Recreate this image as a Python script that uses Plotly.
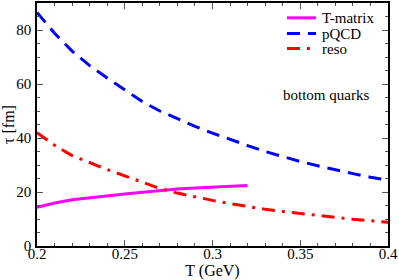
import plotly.graph_objects as go

# ---- data ----
T_tmat = [0.20, 0.21, 0.22, 0.23, 0.24, 0.25, 0.26, 0.27, 0.28, 0.29, 0.30, 0.31, 0.32]
tau_tmat = [14.3, 15.9, 17.1, 17.9, 18.6, 19.3, 19.9, 20.6, 21.1, 21.5, 21.8, 22.1, 22.4]

T_full = [0.20, 0.21, 0.22, 0.23, 0.24, 0.25, 0.26, 0.27, 0.28, 0.29, 0.30,
          0.31, 0.32, 0.33, 0.34, 0.35, 0.36, 0.37, 0.38, 0.39, 0.40]
tau_pqcd = [86.5, 78.8, 72.2, 66.8, 62.2, 58.0, 53.5, 50.0, 47.0, 44.3, 41.8,
            39.4, 37.2, 35.0, 33.1, 31.3, 29.7, 28.2, 26.8, 25.5, 24.4]
tau_reso = [42.0, 37.3, 33.5, 30.8, 28.3, 26.0, 23.6, 21.3, 19.6, 18.2, 16.9,
            15.7, 14.6, 13.6, 12.8, 12.0, 11.3, 10.6, 9.9, 9.3, 8.8]

x_ticks = [0.2, 0.25, 0.3, 0.35, 0.4]
x_ticktext = ["0.2", "0.25", "0.3", "0.35", "0.4"]
y_ticks = [0, 20, 40, 60, 80]

series_names = ["T-matrix", "pQCD", "reso"]
series_colors = ["#FF00FF", "#0000FF", "#FF0000"]
series_dash = ["solid", "13px,8px", "13px,7px,3px,7px"]

FONT = "Liberation Serif"

fig = go.Figure()
data = [(T_tmat, tau_tmat), (T_full, tau_pqcd), (T_full, tau_reso)]
for (xs, ys), name, col, dash in zip(data, series_names, series_colors, series_dash):
    fig.add_trace(go.Scatter(x=xs, y=ys, mode="lines", name=name,
                             line=dict(color=col, width=3, dash=dash),
                             showlegend=False))

# manual legend (compact, like the reference)
leg_y = [0.939, 0.874, 0.8125]
for name, col, dash, ly in zip(series_names, series_colors, series_dash, leg_y):
    fig.add_shape(type="line", xref="paper", yref="paper",
                  x0=0.712, x1=0.795, y0=ly, y1=ly,
                  line=dict(color=col, width=3, dash=dash))
    fig.add_annotation(xref="paper", yref="paper", x=0.806, y=ly,
                       text=name, showarrow=False, xanchor="left", yanchor="middle",
                       font=dict(family=FONT, size=15, color="black"))

fig.add_annotation(xref="paper", yref="paper", x=0.823, y=0.62,
                   text="bottom quarks", showarrow=False,
                   xanchor="center", yanchor="middle",
                   font=dict(family=FONT, size=15, color="black"))

axis_common = dict(showline=True, linecolor="black", linewidth=1.5, mirror="allticks",
                   ticks="inside", ticklen=6, tickwidth=1, tickcolor="#555555",
                   showgrid=False, zeroline=False, ticklabeloverflow="allow",
                   tickfont=dict(family=FONT, size=15, color="black"))

fig.update_xaxes(range=[0.2, 0.4], tickvals=x_ticks, ticktext=x_ticktext,
                 minor=dict(ticks="inside", dtick=0.01, ticklen=3, tickcolor="#555555", showgrid=False),
                 title=dict(text="T (GeV)", font=dict(family=FONT, size=16, color="black"), standoff=3),
                 ticklabelstandoff=-7,
                 **axis_common)
fig.update_yaxes(range=[0, 90], tickvals=y_ticks,
                 minor=dict(ticks="inside", dtick=5, ticklen=3, tickcolor="#555555", showgrid=False),
                 title=dict(text="τ [fm]", font=dict(family=FONT, size=16, color="black"), standoff=0),
                 ticklabelstandoff=1,
                 **axis_common)

fig.update_layout(width=399, height=280,
                  margin=dict(l=37, r=11, t=1, b=34),
                  paper_bgcolor="white", plot_bgcolor="white",
                  font=dict(family=FONT, color="black"))

fig.write_html("out.html", config={"displayModeBar": False},
               post_script="document.body.style.margin='0';document.body.style.padding='0';")
